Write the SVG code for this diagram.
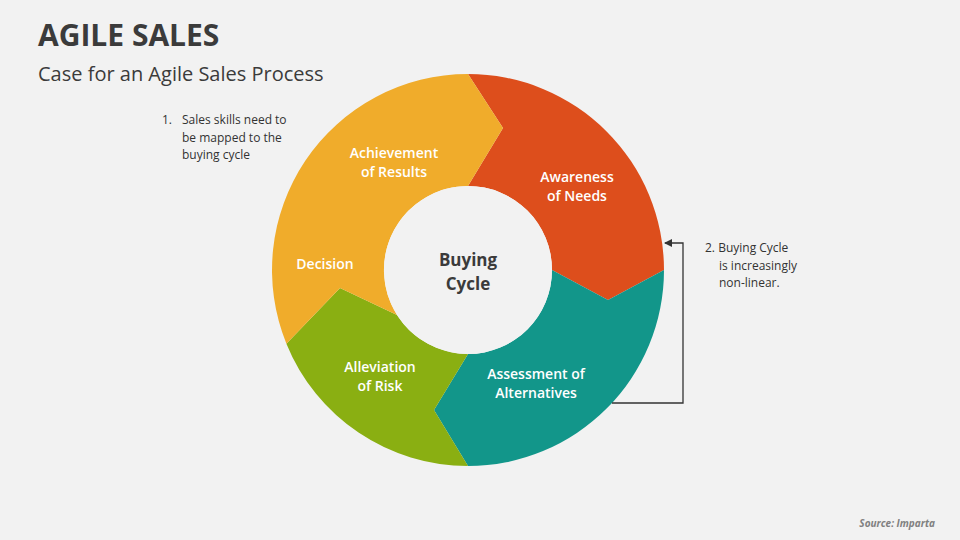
<svg xmlns="http://www.w3.org/2000/svg" width="960" height="540" viewBox="0 0 960 540">
<defs>
<style>
text{font-family:"Open Sans","Noto Sans","Liberation Sans",sans-serif}
.seg{font-size:14px;font-weight:600;fill:#fff;text-anchor:middle}
.note{font-size:12px;fill:#333}
</style>
<marker id="ah" markerWidth="8" markerHeight="8" refX="7" refY="4" orient="auto" markerUnits="userSpaceOnUse"><path d="M0,0 L8,4 L0,8 Z" fill="#333"/></marker>
</defs>
<rect width="960" height="540" fill="#F2F2F2"/>
<text x="38" y="46" font-size="30" font-weight="700" fill="#3B3B3B">AGILE SALES</text>
<text x="38" y="81" font-size="20" fill="#3B3B3B">Case for an Agile Sales Process</text>
<g id="awareness"><path d="M468,74 A196,196 0 0 1 664,270 L608,300 L552,270 A84,84 0 0 0 468,186 L503,128 Z" fill="#DD4E1C"/><text class="seg" x="577" y="182">Awareness</text><text class="seg" x="577" y="201">of Needs</text></g>
<g id="assessment"><path d="M664,270 A196,196 0 0 1 468,466 L434,410 L468,354 A84,84 0 0 0 552,270 L608,300 Z" fill="#12968A"/><text class="seg" x="536" y="379">Assessment of</text><text class="seg" x="536" y="398">Alternatives</text></g>
<g id="alleviation"><path d="M468,466 A196,196 0 0 1 286.4,343.7 L340,288 L397,315 A84,84 0 0 0 468,354 L434,410 Z" fill="#8AAF12"/><text class="seg" x="380" y="372">Alleviation</text><text class="seg" x="380" y="391">of Risk</text></g>
<g id="decision"><path d="M286.4,343.7 A196,196 0 0 1 468,74 L503,128 L468,186 A84,84 0 0 0 397,315 L340,288 Z" fill="#F0AC2B"/><text class="seg" x="394" y="158">Achievement</text><text class="seg" x="394" y="177">of Results</text><text class="seg" x="325" y="269">Decision</text></g>
<g id="center"><circle cx="468" cy="270" r="84" fill="#F2F2F2"/><text x="468" y="266" font-size="17" font-weight="700" fill="#3B3B3B" text-anchor="middle">Buying</text><text x="468" y="290" font-size="17" font-weight="700" fill="#3B3B3B" text-anchor="middle">Cycle</text></g>
<g id="connectors"><path d="M612,403 H683 V243 H665" fill="none" stroke="#333" stroke-width="1.3" marker-end="url(#ah)"/></g>
<g id="notes">
<text class="note" x="162" y="124">1.</text><text class="note" x="182" y="124">Sales skills need to</text><text class="note" x="182" y="142">be mapped to the</text><text class="note" x="182" y="159">buying cycle</text>
<text class="note" x="705" y="252">2. Buying Cycle</text><text class="note" x="719" y="270">is increasingly</text><text class="note" x="719" y="287">non-linear.</text>
</g>
<text x="935" y="527" font-size="10" font-style="italic" font-weight="700" fill="#808080" text-anchor="end">Source: Imparta</text>
</svg>
